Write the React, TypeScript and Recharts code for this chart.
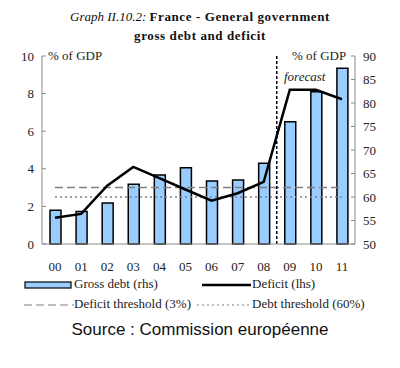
import { ComposedChart, Bar, Line, XAxis, YAxis, ReferenceLine } from 'recharts';

const years = ['00', '01', '02', '03', '04', '05', '06', '07', '08', '09', '10', '11'];
const grossDebt = [57.2, 56.9, 58.7, 62.7, 64.7, 66.2, 63.4, 63.6, 67.2, 76.0, 82.4, 87.4];
const deficit = [1.4, 1.6, 3.1, 4.1, 3.5, 2.9, 2.3, 2.7, 3.3, 8.2, 8.2, 7.7];
const deficitThreshold = [3, 3, 3, 3, 3, 3, 3, 3, 3, 3, 3, 3];
const debtThreshold = [60, 60, 60, 60, 60, 60, 60, 60, 60, 60, 60, 60];
const leftTicks = [0, 2, 4, 6, 8, 10];
const rightTicks = [50, 55, 60, 65, 70, 75, 80, 85, 90];
const boundaryTicks = [1, 2, 3, 4, 5, 6, 7, 8, 9, 10, 11];

const data = years.map((y, i) => ({
  year: y,
  debt: grossDebt[i],
  deficit: deficit[i],
  defThr: deficitThreshold[i],
  debtThr: debtThreshold[i],
}));

const serif = "'Liberation Serif', 'Times New Roman', serif";
const tickStyle = { fontFamily: serif, fontSize: 13, fill: '#222', style: { fontFamily: serif } };

const App = () => {
  return (
    <div style={{ position: 'absolute', left: 0, top: 0, width: 400, height: 368, background: '#fff', fontFamily: serif }}>
      <div style={{ position: 'absolute', top: 7, left: 0, width: 400, textAlign: 'center', fontSize: 13, lineHeight: '19px', color: '#111' }}>
        <span style={{ fontStyle: 'italic' }}>Graph II.10.2: </span>
        <span style={{ fontWeight: 'bold', letterSpacing: 0.6 }}>France - General government</span>
        <br />
        <span style={{ fontWeight: 'bold', letterSpacing: 0.6 }}>gross debt and deficit</span>
      </div>
      <div style={{ position: 'absolute', top: 48, left: 48, fontSize: 13, color: '#222' }}>% of GDP</div>
      <div style={{ position: 'absolute', top: 48, left: 292, fontSize: 13, color: '#222' }}>% of GDP</div>
      <div style={{ position: 'absolute', top: 69, left: 284, fontSize: 13, fontStyle: 'italic', color: '#222' }}>forecast</div>
      <ComposedChart width={400} height={368} data={data} margin={{ top: 56, right: 0, bottom: 99, left: 0 }} style={{ fontFamily: serif }}>
        <XAxis xAxisId="num" type="number" dataKey={() => 0} domain={[0, 12]} ticks={boundaryTicks} height={0} axisLine={false} tickSize={-3} tickLine={{ stroke: '#888' }} tickFormatter={() => ''} />
        <XAxis dataKey="year" height={25} tick={tickStyle} tickLine={false} axisLine={{ stroke: '#888' }} tickMargin={12} interval={0} />
        <YAxis yAxisId="left" width={42} domain={[0, 10]} ticks={leftTicks} tick={tickStyle} axisLine={{ stroke: '#888' }} tickLine={{ stroke: '#888' }} tickSize={-4} tickMargin={12} />
        <YAxis yAxisId="right" orientation="right" width={45} domain={[50, 90]} ticks={rightTicks} tick={tickStyle} axisLine={{ stroke: '#888' }} tickLine={{ stroke: '#888' }} tickSize={-4} tickMargin={12} />
        <Line yAxisId="left" dataKey="defThr" stroke="#808080" strokeWidth={1.5} strokeDasharray="8 4" dot={false} isAnimationActive={false} />
        <Line yAxisId="right" dataKey="debtThr" stroke="#808080" strokeWidth={1.5} strokeDasharray="2 3" dot={false} isAnimationActive={false} />
        <Bar yAxisId="right" dataKey="debt" fill="#99CCFF" stroke="#000" strokeWidth={1.5} barSize={11} isAnimationActive={false} />
        <Line yAxisId="left" dataKey="deficit" stroke="#000" strokeWidth={2.5} dot={false} isAnimationActive={false} />
        <ReferenceLine xAxisId="num" yAxisId="left" x={9} stroke="#000" strokeWidth={1.5} strokeDasharray="3 2" />
      </ComposedChart>
      <div style={{ position: 'absolute', top: 276, left: 24, width: 380, fontSize: 13, color: '#222' }}>
        <div style={{ position: 'absolute', top: 0, left: 0, whiteSpace: 'nowrap' }}>
          <svg width={50} height={14} style={{ verticalAlign: 'middle' }}>
            <rect x={1} y={4} width={46} height={6} fill="#99CCFF" stroke="#000" strokeWidth={1.2} />
          </svg>
          Gross debt (rhs)
        </div>
        <div style={{ position: 'absolute', top: 0, left: 178, whiteSpace: 'nowrap' }}>
          <svg width={50} height={14} style={{ verticalAlign: 'middle' }}>
            <line x1={0} y1={7} x2={49} y2={7} stroke="#000" strokeWidth={2.5} />
          </svg>
          Deficit (lhs)
        </div>
        <div style={{ position: 'absolute', top: 20, left: 0, whiteSpace: 'nowrap' }}>
          <svg width={50} height={14} style={{ verticalAlign: 'middle' }}>
            <line x1={0} y1={7} x2={50} y2={7} stroke="#808080" strokeWidth={1.2} strokeDasharray="8 4" />
          </svg>
          Deficit threshold (3%)
        </div>
        <div style={{ position: 'absolute', top: 20, left: 173, whiteSpace: 'nowrap' }}>
          <svg width={55} height={14} style={{ verticalAlign: 'middle' }}>
            <line x1={0} y1={7} x2={53} y2={7} stroke="#808080" strokeWidth={1.2} strokeDasharray="2 3" />
          </svg>
          Debt threshold (60%)
        </div>
      </div>
      <div style={{ position: 'absolute', top: 320, left: 0, width: 400, textAlign: 'center', fontFamily: "'Liberation Sans', Arial, sans-serif", fontSize: 17, color: '#111' }}>
        Source : Commission européenne
      </div>
    </div>
  );
};

export default App;
